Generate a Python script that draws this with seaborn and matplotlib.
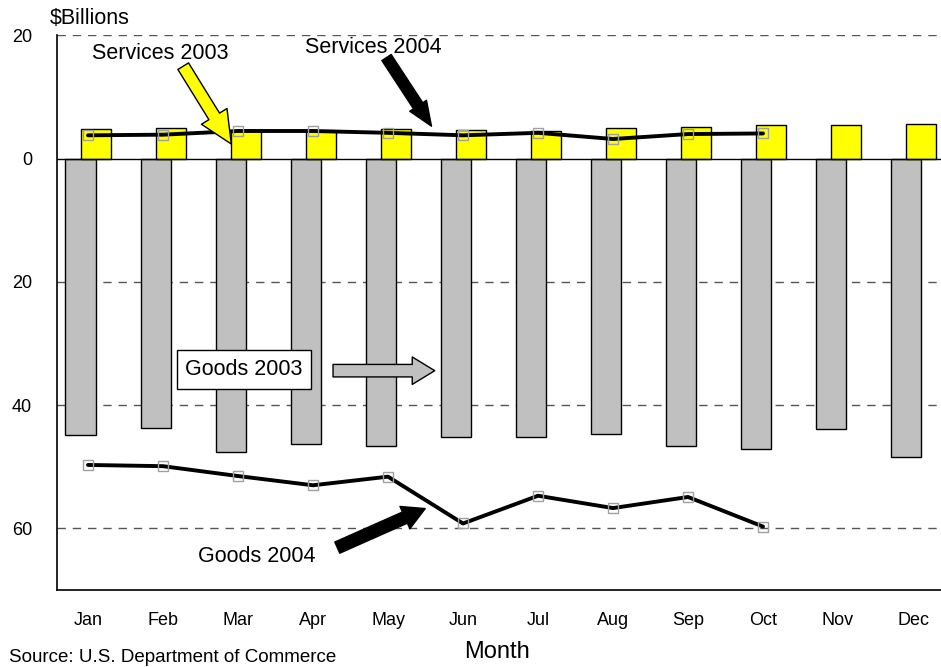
import numpy as np
import pandas as pd
import seaborn as sns
import matplotlib.pyplot as plt
from matplotlib.patches import FancyArrowPatch

# 数据 (十亿美元, 逆差为负)
months = ['Jan', 'Feb', 'Mar', 'Apr', 'May', 'Jun', 'Jul', 'Aug', 'Sep', 'Oct', 'Nov', 'Dec']
goods_2003 = [-44.8, -43.7, -47.6, -46.3, -46.6, -45.1, -45.1, -44.7, -46.6, -47.1, -43.8, -48.4]
services_2003 = [4.8, 5.0, 4.6, 4.5, 4.8, 4.7, 4.45, 5.05, 5.2, 5.4, 5.5, 5.6]
goods_2004 = [-49.7, -49.9, -51.5, -53.0, -51.6, -59.2, -54.7, -56.7, -54.9, -59.7]
services_2004 = [3.8, 3.9, 4.5, 4.5, 4.2, 3.8, 4.2, 3.2, 4.0, 4.1]
y_ticks = [20, 0, -20, -40, -60]

sns.set_style('white')
plt.rcParams['font.family'] = ['Liberation Sans', 'DejaVu Sans']
plt.rcParams['text.color'] = 'black'
plt.rcParams['xtick.color'] = 'black'
plt.rcParams['ytick.color'] = 'black'

pos = np.arange(len(months))
df03 = pd.DataFrame({'pos': pos, 'goods': goods_2003, 'services': services_2003})
df04 = pd.DataFrame({'pos': pos[:len(goods_2004)], 'goods': goods_2004, 'services': services_2004})

fig = plt.figure(figsize=(9.41, 6.67), dpi=100)
ax = fig.add_axes([0.0606, 0.1154, 0.9394, 0.8314])

# 2003 柱
sns.barplot(x=df03['pos'] - 0.1, y=df03['goods'], native_scale=True, width=0.4,
            color='#C0C0C0', saturation=1, edgecolor='black', linewidth=1, ax=ax)
sns.barplot(x=df03['pos'] + 0.1, y=df03['services'], native_scale=True, width=0.4,
            color='#FFFF00', saturation=1, edgecolor='black', linewidth=1, ax=ax)

# 2004 折线
for col in ['services', 'goods']:
    sns.lineplot(data=df04, x='pos', y=col, color='black', linewidth=2.8, ax=ax, zorder=4)
    ax.plot(df04['pos'], df04[col], ls='none', marker='s', ms=7, mfc='none',
            mec='#A0A0A0', mew=1, zorder=5)

ax.axhline(0, color='black', lw=1, zorder=3)
for v in [20, -20, -40, -60]:
    ax.axhline(v, color='#555555', lw=1, ls=(0, (6, 5)), zorder=0)

ax.set_xlim(-0.413, 11.373)
ax.set_ylim(-70, 20)
ax.set_xticks(pos)
ax.set_xticklabels(months, fontsize=13)
ax.set_yticks(y_ticks)
ax.set_yticklabels([str(abs(v)) for v in y_ticks], fontsize=13)
ax.tick_params(length=0)
ax.tick_params(axis='y', pad=18)
ax.tick_params(axis='x', pad=16)
ax.set_xlabel('')
ax.set_ylabel('')
for s in ['top', 'right']:
    ax.spines[s].set_visible(False)
for s in ['left', 'bottom']:
    ax.spines[s].set_color('black')
    ax.spines[s].set_linewidth(1.2)

# 注释与箭头
def arrow(p0, p1, fc, ec, tw, hw, hl, ms):
    a = FancyArrowPatch(p0, p1, arrowstyle=f'simple,tail_width={tw},head_width={hw},head_length={hl}',
                        mutation_scale=ms, facecolor=fc, edgecolor=ec, lw=1, zorder=6)
    ax.add_patch(a)

ax.text(0.96, 17.1, 'Services 2003', fontsize=15.5, ha='center', va='center', zorder=5)
arrow((1.25, 15.4), (1.93, 2.0), '#FFFF00', 'black', 0.5, 1.2, 1.3, 18)
ax.text(3.81, 18.0, 'Services 2004', fontsize=15.5, ha='center', va='center', zorder=5)
arrow((3.96, 16.8), (4.6, 4.9), 'black', 'black', 0.5, 0.9, 1.1, 16)
ax.text(2.08, -34.2, 'Goods 2003', fontsize=15.5, ha='center', va='center', zorder=6,
        bbox=dict(boxstyle='square,pad=0.4', fc='white', ec='black', lw=1))
arrow((3.23, -34.4), (4.66, -34.4), '#C0C0C0', 'black', 0.5, 1.1, 0.9, 18)
ax.text(2.25, -64.5, 'Goods 2004', fontsize=15.5, ha='center', va='center', zorder=5)
arrow((3.29, -63.3), (4.53, -56.6), 'black', 'black', 0.55, 1.1, 1.0, 16)

fig.text(0.053, 0.973, '$Billions', fontsize=15.5, ha='left', va='center')
fig.text(0.528, 0.0225, 'Month', fontsize=17, ha='center', va='center')
fig.text(0.01, 0.002, 'Source: U.S. Department of Commerce', fontsize=13.5, ha='left', va='bottom')

fig.savefig('out.png', dpi=100)
